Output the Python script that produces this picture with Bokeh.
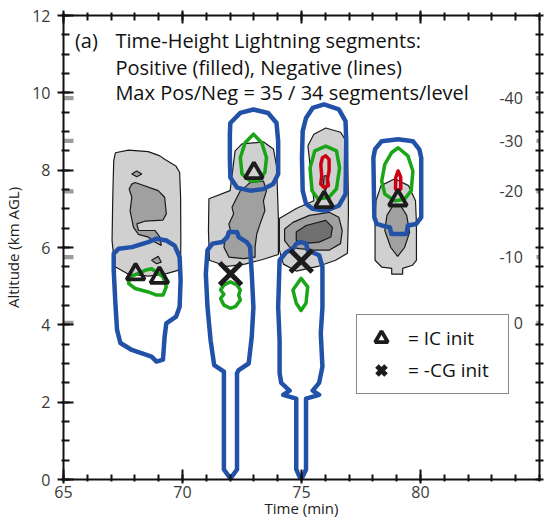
from bokeh.plotting import figure
from bokeh.models import (Range1d, LinearAxis, FixedTicker, Legend, LegendItem,
                          Label, BoxAnnotation)
from bokeh.embed import file_html
from bokeh.resources import INLINE
from bokeh.core.properties import value

FONT = "Open Sans"

# ---------------- axis / tick data ----------------
x_major = [65, 70, 75, 80]
x_minor = [65, 66, 67, 68, 69, 70, 71, 72, 73, 74, 75, 76, 77, 78, 79, 80, 81, 82, 83, 84, 85]
y_major = [0, 2, 4, 6, 8, 10, 12]
y_minor = [0, 0.5, 1, 1.5, 2, 2.5, 3, 3.5, 4, 4.5, 5, 5.5, 6, 6.5, 7, 7.5, 8, 8.5,
           9, 9.5, 10, 10.5, 11, 11.5, 12]
temp_labels = ["-40", "-30", "-20", "-10", "0"]
temp_alt = [9.86, 8.76, 7.45, 5.75, 4.05]

# ---------------- initiation markers ----------------
ic_t = [68.03, 69.03, 73.0, 75.95, 79.05]
ic_z = [5.31, 5.22, 7.93, 7.18, 7.22]
cg_t = [72.02, 74.99]
cg_z = [5.32, 5.65]

# ---------------- positive segments (filled), level 1 (light) ----------------
pos1_a_t = [67.18, 67.73, 68.56, 69.05, 69.25, 69.72, 69.88, 69.92, 69.93, 69.92, 69.81, 69.25, 68.56, 67.73, 67.15, 67.04, 67.07, 67.11]
pos1_a_z = [8.45, 8.52, 8.48, 8.37, 8.28, 8.11, 7.94, 7.30, 6.18, 5.59, 5.41, 5.31, 5.26, 5.31, 5.51, 6.18, 7.30, 8.24]
pos1_b_t = [71.11, 72.0, 72.21, 72.50, 73.41, 73.82, 73.95, 73.99, 74.03, 74.03, 73.37, 72.62, 71.88, 71.13, 71.09]
pos1_b_z = [7.26, 7.47, 8.50, 8.68, 8.73, 8.55, 8.11, 7.47, 6.70, 5.82, 5.69, 5.57, 5.51, 5.67, 6.44]
pos1_c_t = [74.07, 74.78, 75.52, 75.27, 75.52, 76.02, 76.64, 76.93, 76.97, 76.97, 76.93, 76.43, 75.69, 74.78, 74.24, 74.07]
pos1_c_z = [6.75, 7.01, 7.21, 8.63, 8.93, 9.09, 8.98, 8.70, 7.21, 6.83, 5.85, 5.67, 5.51, 5.39, 5.57, 5.93]
pos1_d_t = [78.13, 78.34, 78.92, 79.50, 79.79, 79.83, 79.83, 79.66, 79.25, 79.25, 78.79, 78.79, 78.38, 78.09, 78.09]
pos1_d_z = [7.21, 7.60, 7.78, 7.60, 7.21, 6.62, 5.67, 5.54, 5.46, 5.31, 5.31, 5.46, 5.49, 5.67, 6.77]

# ---------------- level 2 (medium) ----------------
pos2_a_t = [68.01, 68.98, 69.25, 69.32, 69.18, 68.42, 68.08, 68.15, 68.84, 69.05, 69.11, 68.84, 68.56, 68.15, 67.94, 67.80, 67.87, 67.76, 67.87]
pos2_a_z = [7.68, 7.47, 7.30, 6.87, 6.71, 6.68, 6.61, 6.44, 6.44, 6.27, 6.05, 6.14, 6.27, 6.34, 6.52, 6.95, 7.30, 7.51, 7.64]
pos2_a2_t = [67.87, 68.08, 68.29, 68.08]
pos2_a2_z = [7.90, 7.98, 7.90, 7.83]
pos2_a3_t = [68.70, 68.98, 69.11, 68.91]
pos2_a3_z = [5.67, 5.77, 5.62, 5.58]
pos2_b_t = [72.84, 73.40, 73.53, 73.40, 73.46, 73.26, 73.12, 73.05, 73.05, 72.57, 71.95, 71.74, 71.81, 72.01, 71.95, 72.15, 72.08, 72.29, 72.43, 72.70]
pos2_b_z = [7.68, 7.72, 7.47, 7.21, 6.95, 6.61, 6.35, 6.01, 5.75, 5.71, 5.75, 6.01, 6.27, 6.44, 6.61, 6.87, 7.04, 7.30, 7.47, 7.60]
pos2_c_t = [74.29, 74.64, 75.33, 76.16, 76.57, 76.71, 76.64, 76.16, 75.53, 74.91, 74.50, 74.29]
pos2_c_z = [6.48, 6.65, 6.83, 6.91, 6.78, 6.44, 6.10, 5.93, 5.93, 5.97, 6.01, 6.18]
pos2_c2_t = [75.95, 76.05, 76.08, 76.0, 75.92]
pos2_c2_z = [7.85, 7.85, 7.60, 7.45, 7.60]
pos2_d_t = [78.50, 78.59, 78.84, 79.17, 79.42, 79.54, 79.33, 79.04, 78.75]
pos2_d_z = [6.44, 6.83, 7.08, 7.08, 6.83, 6.39, 6.00, 5.77, 6.00]

# ---------------- level 3 (dark) ----------------
pos3_c_t = [74.78, 75.19, 76.02, 76.30, 76.23, 75.74, 75.05, 74.78]
pos3_c_z = [6.40, 6.57, 6.70, 6.52, 6.27, 6.14, 6.10, 6.18]

# ---------------- negative segments (lines), level 1 (blue) ----------------
neg1_a_t = [68.91, 69.32, 69.67, 69.88, 69.92, 69.88, 69.73, 69.32, 69.25, 69.18, 68.91, 68.70, 67.87, 67.39, 67.25, 67.18, 67.11, 67.11, 67.32, 67.87, 68.56]
neg1_a_z = [6.23, 6.18, 6.05, 5.75, 5.15, 4.47, 4.21, 4.04, 3.70, 3.10, 3.05, 3.18, 3.35, 3.53, 3.87, 4.56, 5.41, 5.84, 5.97, 6.01, 6.14]
neg1_b_t = [72.01, 72.43, 72.98, 73.60, 73.95, 74.02, 74.02, 73.81, 73.40, 72.84, 72.29, 72.01, 71.99, 71.99]
neg1_b_z = [9.22, 9.48, 9.57, 9.48, 9.22, 8.75, 7.90, 7.64, 7.51, 7.47, 7.55, 7.81, 8.32, 8.93]
neg1_b2_t = [71.26, 71.67, 71.88, 71.95, 72.29, 72.36, 72.70, 72.84, 72.91, 72.98, 72.91, 72.78, 72.36, 72.29, 72.29, 72.08, 72.01, 71.95, 71.74, 71.74, 71.33, 71.18, 71.05, 70.98, 71.05]
neg1_b2_z = [6.10, 6.14, 6.27, 6.40, 6.40, 6.27, 6.14, 6.01, 5.32, 4.46, 3.69, 3.00, 2.83, 2.75, 0.26, 0.08, 0.03, 0.08, 0.26, 2.79, 2.96, 3.60, 4.46, 5.32, 5.93]
neg1_c_t = [75.19, 75.47, 75.95, 76.57, 76.85, 76.88, 76.85, 76.57, 76.02, 75.47, 75.19, 75.05, 75.02, 75.05]
neg1_c_z = [9.35, 9.61, 9.70, 9.57, 9.27, 8.75, 7.38, 7.08, 6.95, 7.00, 7.13, 7.47, 8.32, 9.01]
neg1_c2_t = [74.78, 74.98, 75.19, 75.26, 75.74, 75.88, 75.88, 75.81, 75.88, 75.74, 75.47, 75.74, 75.19, 75.19, 75.05, 74.98, 74.91, 74.78, 74.78, 74.23, 74.50, 74.15, 74.08, 74.08, 74.02, 74.08, 74.36, 74.64]
neg1_c2_z = [6.10, 6.14, 6.10, 5.93, 5.80, 5.50, 4.46, 3.78, 2.92, 2.50, 2.30, 2.19, 2.09, 0.26, 0.08, 0.03, 0.08, 0.26, 2.09, 2.19, 2.30, 2.50, 2.75, 3.60, 4.46, 5.67, 5.88, 5.97]
neg1_d_t = [78.09, 78.37, 79.06, 79.68, 79.95, 80.03, 80.03, 79.82, 79.47, 79.41, 78.78, 78.71, 78.37, 78.16, 78.06, 78.02]
neg1_d_z = [8.54, 8.75, 8.80, 8.75, 8.54, 8.32, 6.78, 6.61, 6.57, 6.35, 6.35, 6.52, 6.57, 6.61, 6.78, 8.32]

# ---------------- level 2 (green) ----------------
neg2_a_t = [67.73, 67.80, 68.43, 68.70, 69.18, 69.32, 69.18, 68.91, 68.56, 68.01]
neg2_a_z = [5.07, 5.24, 5.41, 5.45, 5.24, 4.98, 4.77, 4.77, 4.85, 4.94]
neg2_b_t = [72.98, 73.33, 73.53, 73.46, 73.19, 72.84, 72.50, 72.43, 72.63]
neg2_b_z = [8.93, 8.71, 8.32, 7.94, 7.72, 7.72, 7.90, 8.32, 8.71]
neg2_b2_t = [72.01, 72.29, 72.43, 72.36, 72.43, 72.22, 72.01, 71.74, 71.60, 71.74, 71.60, 71.74]
neg2_b2_z = [5.11, 5.03, 4.90, 4.77, 4.64, 4.47, 4.43, 4.51, 4.68, 4.79, 4.90, 5.03]
neg2_c_t = [76.02, 76.47, 76.60, 76.47, 76.14, 75.69, 75.44, 75.36, 75.56]
neg2_c_z = [8.62, 8.50, 8.06, 7.52, 7.29, 7.26, 7.47, 8.06, 8.50]
neg2_c2_t = [74.98, 75.26, 75.19, 74.98, 74.78, 74.64]
neg2_c2_z = [5.20, 4.98, 4.56, 4.37, 4.56, 4.90]
neg2_d_t = [79.06, 79.47, 79.68, 79.61, 79.33, 78.92, 78.50, 78.37, 78.50, 78.78]
neg2_d_z = [8.58, 8.37, 7.98, 7.47, 7.25, 7.21, 7.38, 7.72, 8.15, 8.45]

# ---------------- level 3 (red) ----------------
neg3_c_t = [76.02, 76.16, 76.16, 76.09, 76.13, 75.95, 75.81, 75.85, 75.81, 75.88]
neg3_c_z = [8.37, 8.28, 7.98, 7.77, 7.60, 7.55, 7.64, 7.85, 8.15, 8.32]
neg3_d_t = [79.06, 79.17, 79.17, 79.06, 78.95, 78.96]
neg3_d_z = [7.98, 7.81, 7.51, 7.49, 7.51, 7.81]

# ---------------- texts ----------------
panel_tag = "(a)"
note_lines = ["Time-Height Lightning segments:",
              "Positive (filled), Negative (lines)",
              "Max Pos/Neg =  35 / 34 segments/level"]
note_z = [11.35, 10.66, 10.02]
x_title = "Time (min)"
y_title = "Altitude (km AGL)"
legend_labels = ["= IC init", "= -CG init"]

# ======================================================================
p = figure(width=549, height=525, x_range=Range1d(65, 85), y_range=Range1d(0, 12),
           output_backend="svg", toolbar_location=None,
           min_border_left=55, min_border_right=10, min_border_top=15, min_border_bottom=46,
           x_axis_location=None, y_axis_location=None)
p.grid.visible = False
p.outline_line_color = None
p.background_fill_color = "white"

AX = "#111111"
LBL = "#3a3a3a"

def style_axis(ax, major_in, major_out, minor_in, minor_out):
    ax.axis_line_width = 2
    ax.axis_line_color = AX
    ax.major_tick_line_color = AX
    ax.major_tick_line_width = 2
    ax.minor_tick_line_color = AX
    ax.minor_tick_line_width = 2
    ax.major_tick_in = major_in
    ax.major_tick_out = major_out
    ax.minor_tick_in = minor_in
    ax.minor_tick_out = minor_out
    ax.major_label_text_font = FONT
    ax.major_label_text_color = LBL
    ax.major_label_text_font_size = "16px"

def hide_labels(ax):
    ax.major_label_text_font_size = "1px"
    ax.major_label_text_alpha = 0
    ax.major_label_standoff = 0

bottom = LinearAxis(ticker=FixedTicker(ticks=x_major, minor_ticks=x_minor),
                    axis_label=x_title)
style_axis(bottom, 10, 4, 5, 2)
bottom.major_label_standoff = 2
bottom.axis_label_text_font = FONT
bottom.axis_label_text_font_style = "normal"
bottom.axis_label_text_font_size = "15px"
bottom.axis_label_text_color = "#222222"
bottom.axis_label_standoff = -3
p.add_layout(bottom, "below")

top = LinearAxis(ticker=FixedTicker(ticks=x_major, minor_ticks=x_minor))
style_axis(top, 8, 5, 5, 3)
hide_labels(top)
p.add_layout(top, "above")

left = LinearAxis(ticker=FixedTicker(ticks=y_major, minor_ticks=y_minor),
                  axis_label=y_title)
style_axis(left, 10, 6, 6, 2)
left.major_label_standoff = 7
left.axis_label_text_font = FONT
left.axis_label_text_font_style = "normal"
left.axis_label_text_font_size = "15px"
left.axis_label_text_color = "#222222"
left.axis_label_standoff = 6
p.add_layout(left, "left")

right = LinearAxis(ticker=FixedTicker(ticks=y_minor))
style_axis(right, 4, 4, 0, 0)
hide_labels(right)
p.add_layout(right, "right")

# grey temperature marks straddling both vertical axes (frame-relative screen x)
for a in temp_alt:
    p.add_layout(BoxAnnotation(left=-11, right=10, left_units="screen", right_units="screen",
                               bottom=a - 0.055, top=a + 0.055, fill_color="#9c9c9c",
                               fill_alpha=1, line_alpha=0, level="underlay"))
    p.add_layout(BoxAnnotation(left=473, right=496, left_units="screen", right_units="screen",
                               bottom=a - 0.055, top=a + 0.055, fill_color="#9c9c9c",
                               fill_alpha=1, line_alpha=0, level="underlay"))

# temperature labels (inside the frame, next to the right axis)
p.text(x=[84.3] * len(temp_alt), y=temp_alt, text=temp_labels, text_align="right",
       text_baseline="middle", text_font=value(FONT), text_font_size="16px",
       text_color=LBL)

# filled positive contours
p.patches(xs=[pos1_a_t, pos1_b_t, pos1_c_t, pos1_d_t],
          ys=[pos1_a_z, pos1_b_z, pos1_c_z, pos1_d_z],
          fill_color="#d0d0d0", line_color="#1a1a1a", line_width=1.2)
p.patches(xs=[pos2_a_t, pos2_a2_t, pos2_a3_t, pos2_b_t, pos2_c_t, pos2_c2_t, pos2_d_t],
          ys=[pos2_a_z, pos2_a2_z, pos2_a3_z, pos2_b_z, pos2_c_z, pos2_c2_z, pos2_d_z],
          fill_color="#a0a0a0", line_color="#1a1a1a", line_width=1.2)
p.patches(xs=[pos3_c_t], ys=[pos3_c_z],
          fill_color="#707070", line_color="#1a1a1a", line_width=1.2)

# negative contour lines
p.patches(xs=[neg1_a_t, neg1_b_t, neg1_b2_t, neg1_c_t, neg1_c2_t, neg1_d_t],
          ys=[neg1_a_z, neg1_b_z, neg1_b2_z, neg1_c_z, neg1_c2_z, neg1_d_z],
          fill_alpha=0, line_color="#2152a8", line_width=4.5, line_join="round")
p.patches(xs=[neg2_a_t, neg2_b_t, neg2_b2_t, neg2_c_t, neg2_c2_t, neg2_d_t],
          ys=[neg2_a_z, neg2_b_z, neg2_b2_z, neg2_c_z, neg2_c2_z, neg2_d_z],
          fill_alpha=0, line_color="#18a518", line_width=3.5, line_join="round")
p.patches(xs=[neg3_c_t, neg3_d_t], ys=[neg3_c_z, neg3_d_z],
          fill_alpha=0, line_color="#cc0010", line_width=3.5, line_join="round")

# initiation markers
tri = p.scatter(ic_t, ic_z, marker="triangle", size=18, fill_alpha=0,
                line_color="#1c1c1c", line_width=3.8)
xx = p.scatter(cg_t, cg_z, marker="x", size=31, line_color="#1c1c1c", line_width=5)

legend = Legend(items=[LegendItem(label=legend_labels[0], renderers=[tri]),
                       LegendItem(label=legend_labels[1], renderers=[xx])],
                location=(293, 85), orientation="vertical",
                glyph_width=34, glyph_height=32, spacing=0, padding=7, margin=0,
                label_width=93, label_standoff=10,
                label_text_font=FONT, label_text_font_size="19px", label_text_color="#111111",
                border_line_color="#111111", border_line_width=1.5,
                background_fill_color="white", background_fill_alpha=1)
p.add_layout(legend)

# panel tag and notes
p.add_layout(Label(x=65.48, y=note_z[0], text=panel_tag, text_font=FONT, text_font_size="20px",
                   text_color="#111111", text_baseline="alphabetic"))
for txt, yy in zip(note_lines, note_z):
    p.add_layout(Label(x=67.18, y=yy, text=txt, text_font=FONT, text_font_size="20px",
                       text_color="#111111", text_baseline="alphabetic"))

open("out.html", "w").write(file_html(p, INLINE))
